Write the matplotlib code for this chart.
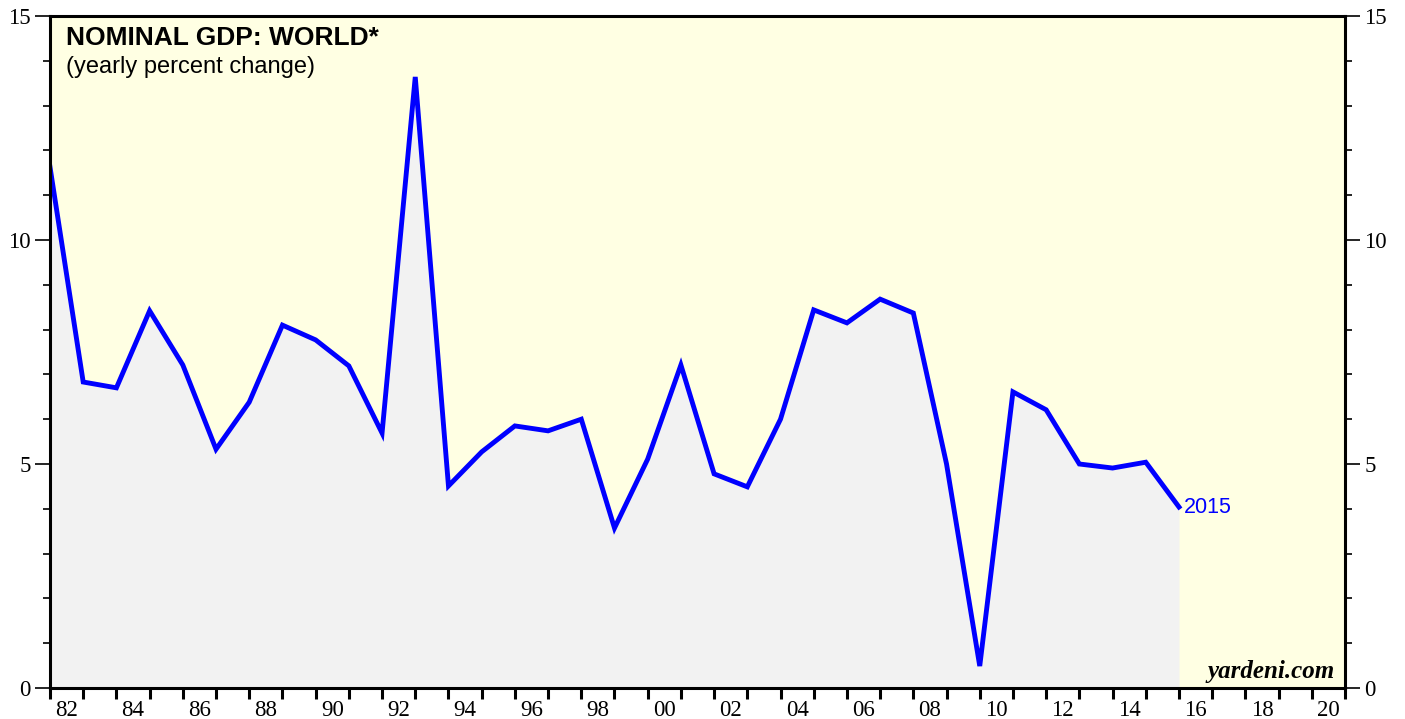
import matplotlib.pyplot as plt
from matplotlib.ticker import FixedLocator, NullFormatter

years = list(range(1981, 2016))
gdp_growth = [11.63, 6.83, 6.70, 8.42, 7.21, 5.33, 6.38, 8.10, 7.77, 7.19,
              5.69, 13.64, 4.51, 5.27, 5.85, 5.74, 6.00, 3.57, 5.11, 7.21,
              4.78, 4.49, 6.00, 8.44, 8.15, 8.68, 8.37, 5.00, 0.49, 6.61,
              6.21, 5.00, 4.91, 5.04, 4.04]
label_years = list(range(1982, 2021, 2))
title = "NOMINAL GDP: WORLD*"
subtitle = "(yearly percent change)"

# values are year-end readings, so plot them at the start of the next year
x = [y + 1 for y in years]

fig = plt.figure(figsize=(14.05, 7.19), dpi=100)
ax = fig.add_axes([50 / 1405, 1 - 688 / 719, 1295 / 1405, 672 / 719])
ax.set_facecolor("#FFFFE3")

ax.fill_between(x, 0, gdp_growth, color="#F2F2F2", lw=0, zorder=1)
ax.plot(x, gdp_growth, color="#0000FF", lw=3.5, solid_joinstyle="miter", zorder=3)
ax.text(x[-1] + 0.15, gdp_growth[-1], str(years[-1]), color="#0000FF",
        fontsize=15.5, family="Liberation Sans", va="center", ha="left")

ax.set_xlim(1982, 2021)
ax.set_ylim(0, 15)

# x axis: tick at every year boundary, label centered on even years
ax.xaxis.set_major_locator(FixedLocator(range(1982, 2022)))
ax.xaxis.set_major_formatter(NullFormatter())
ax.xaxis.set_minor_locator(FixedLocator([y + 0.5 for y in label_years]))
ax.set_xticklabels([f"{y % 100:02d}" for y in label_years], minor=True)
ax.tick_params(axis="x", which="major", direction="out", length=8, width=2.2,
               bottom=True, top=False)
ax.tick_params(axis="x", which="minor", length=0, pad=9, labelsize=16.5)

ax.set_yticks([0, 5, 10, 15])
ax.yaxis.set_minor_locator(FixedLocator(range(0, 16)))
ax.tick_params(axis="y", which="major", direction="out", length=11, width=1.2,
               left=True, right=True, labelleft=True, labelright=True,
               labelsize=16.5, pad=3)
ax.tick_params(axis="y", which="minor", direction="out", length=5, width=1.2,
               left=True, right=True)

for lab in ax.get_xticklabels(minor=True) + ax.get_yticklabels():
    lab.set_family("Liberation Serif")

for sp in ax.spines.values():
    sp.set_linewidth(2.2)
    sp.set_zorder(5)

ax.text(0.012, 0.985, title, transform=ax.transAxes, fontsize=19,
        fontweight="bold", family="Liberation Sans", va="top", ha="left")
ax.text(0.012, 0.94, subtitle, transform=ax.transAxes, fontsize=17,
        family="Liberation Sans", va="top", ha="left")
ax.text(0.992, 0.008, "yardeni.com", transform=ax.transAxes, fontsize=18,
        fontweight="bold", style="italic", family="Liberation Serif",
        va="bottom", ha="right")

fig.savefig("out.png", dpi=100)
